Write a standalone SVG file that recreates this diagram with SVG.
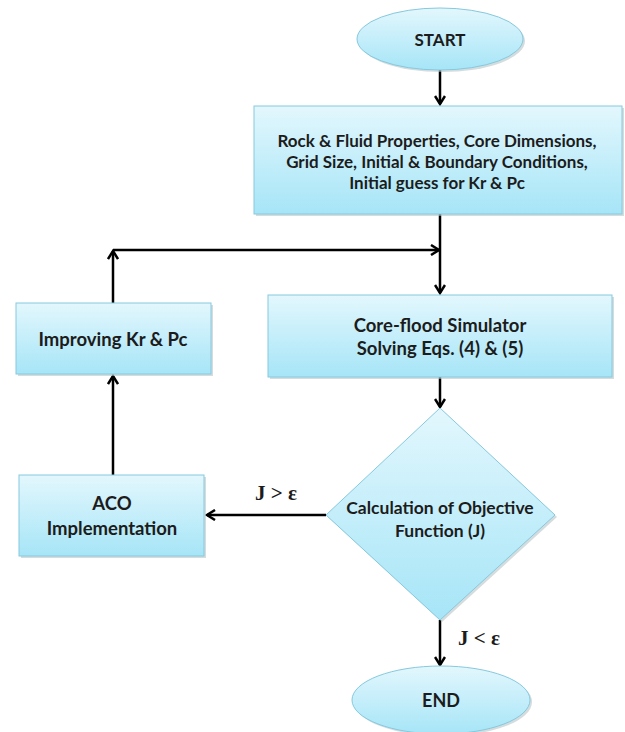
<svg xmlns="http://www.w3.org/2000/svg" width="625" height="732" viewBox="0 0 625 732">
<style>
.box{fill:url(#g);stroke:#86c9de;stroke-width:1}
.sh{fill:#b9c4c8;opacity:0.6}
.t{font-family:Lato,"Open Sans",sans-serif;font-weight:bold;fill:#1c1c1c;text-anchor:middle;dominant-baseline:central}
.c{fill:none;stroke:#000;stroke-width:2.5}
.lbl{font-family:"Liberation Serif",serif;font-weight:bold;font-size:21px;fill:#1c1c1c;dominant-baseline:central}
</style>
<defs>
<linearGradient id="g" x1="0" y1="0" x2="0" y2="1">
<stop offset="0" stop-color="#e3f7fd"/>
<stop offset="1" stop-color="#a6e5f7"/>
</linearGradient>
<marker id="a" viewBox="0 0 12 12" refX="10" refY="6" markerWidth="12" markerHeight="12" markerUnits="userSpaceOnUse" orient="auto">
<path d="M2,1 L10,6 L2,11" fill="none" stroke="#000" stroke-width="2.5"/>
</marker>
</defs>
<g id="connectors">
<line class="c" x1="440" y1="70" x2="440" y2="104" marker-end="url(#a)"/>
<line class="c" x1="440" y1="214" x2="440" y2="293" marker-end="url(#a)"/>
<line class="c" x1="113" y1="303" x2="113" y2="251" marker-end="url(#a)"/>
<line class="c" x1="113" y1="250" x2="439" y2="250" marker-end="url(#a)"/>
<line class="c" x1="440" y1="377" x2="440" y2="407" marker-end="url(#a)"/>
<line class="c" x1="326" y1="515" x2="207" y2="515" marker-end="url(#a)"/>
<line class="c" x1="113" y1="475" x2="113" y2="376" marker-end="url(#a)"/>
<line class="c" x1="440" y1="620" x2="440" y2="665" marker-end="url(#a)"/>
<text class="lbl" x="255" y="493">J &gt; ε</text>
<text class="lbl" x="458" y="638">J &lt; ε</text>
</g>
<g id="start">
<ellipse class="sh" cx="442" cy="41" rx="83" ry="31"/>
<ellipse class="box" cx="440" cy="39" rx="83" ry="31"/>
<text class="t" x="440" y="39" font-size="17">START</text>
</g>
<g id="inputs">
<rect class="sh" x="256" y="108" width="368" height="108"/>
<rect class="box" x="254" y="106" width="368" height="108"/>
<text class="t" x="437" y="140" font-size="17">Rock &amp; Fluid Properties, Core Dimensions,</text>
<text class="t" x="437" y="161" font-size="17">Grid Size, Initial &amp; Boundary Conditions,</text>
<text class="t" x="437" y="182" font-size="17">Initial guess for Kr &amp; Pc</text>
</g>
<g id="improving">
<rect class="sh" x="18" y="305" width="195" height="71"/>
<rect class="box" x="16" y="303" width="195" height="71"/>
<text class="t" x="113" y="339" font-size="18.5">Improving Kr &amp; Pc</text>
</g>
<g id="simulator">
<rect class="sh" x="270" y="297" width="344" height="82"/>
<rect class="box" x="268" y="295" width="344" height="82"/>
<text class="t" x="440" y="325" font-size="18.5">Core-flood Simulator</text>
<text class="t" x="440" y="348" font-size="18.5">Solving Eqs. (4) &amp; (5)</text>
</g>
<g id="objective">
<polygon class="sh" points="442,410 557,517 442,622 328,517"/>
<polygon class="box" points="440,408 555,515 440,620 326,515"/>
<text class="t" x="440" y="507" font-size="17.5">Calculation of Objective</text>
<text class="t" x="440" y="530" font-size="17.5">Function (J)</text>
</g>
<g id="aco">
<rect class="sh" x="21" y="477" width="185" height="81"/>
<rect class="box" x="19" y="475" width="185" height="81"/>
<text class="t" x="112" y="503" font-size="18.5">ACO</text>
<text class="t" x="112" y="528" font-size="18.5">Implementation</text>
</g>
<g id="end">
<ellipse class="sh" cx="443" cy="702" rx="89" ry="34"/>
<ellipse class="box" cx="441" cy="700" rx="89" ry="34"/>
<text class="t" x="441" y="700" font-size="18">END</text>
</g>
</svg>
